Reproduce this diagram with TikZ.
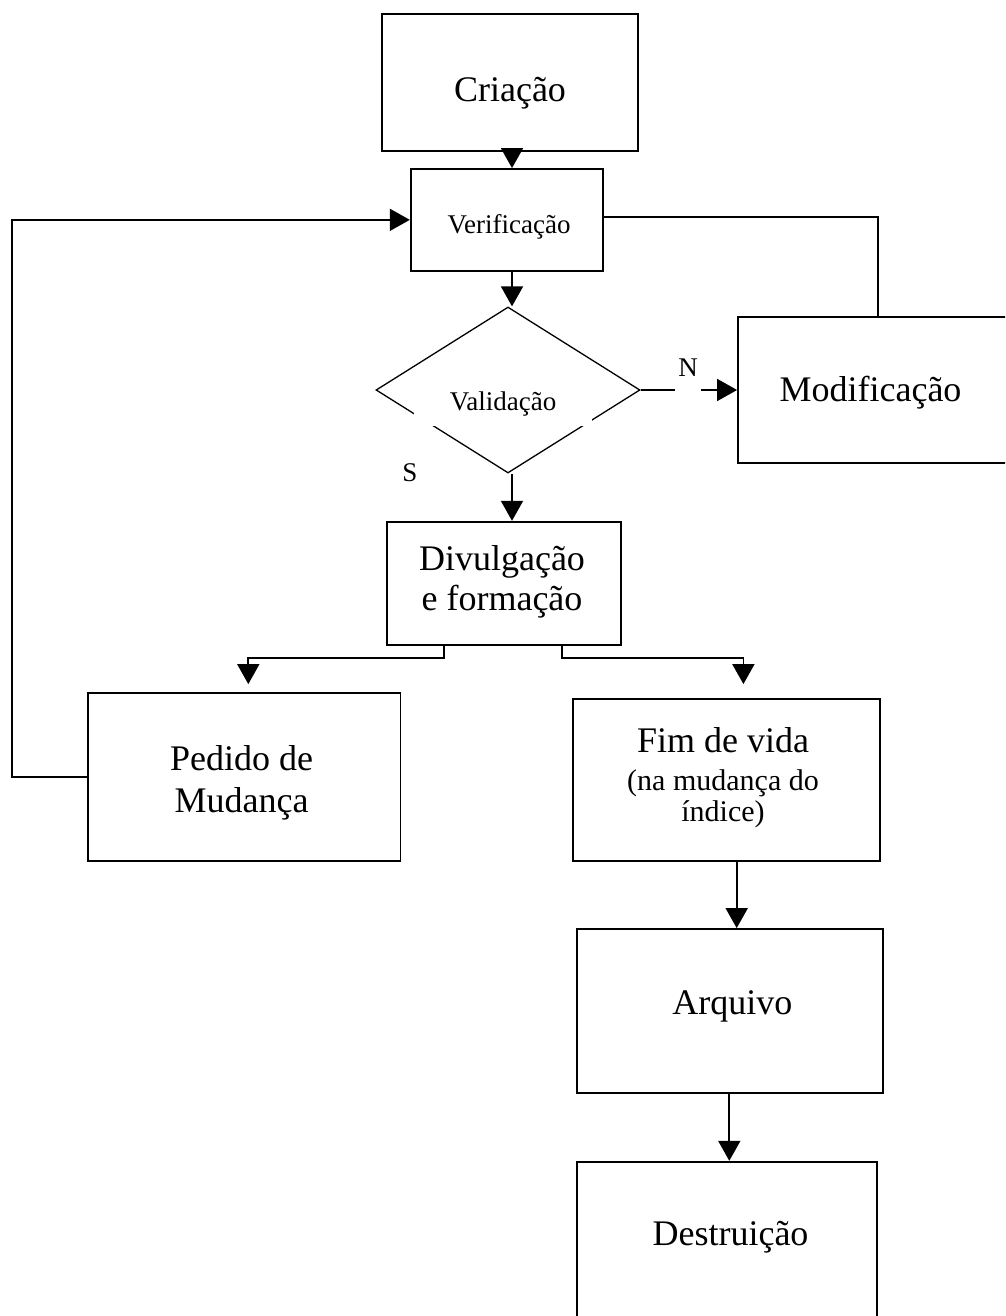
\documentclass[tikz,border=0pt]{standalone}
\usepackage{fontspec}
\setmainfont{Liberation Serif}
\usetikzlibrary{arrows.meta,shapes.geometric}

\begin{document}
\begin{tikzpicture}[x=1pt,y=-1pt,
  box/.style={draw, line width=1.8pt, rectangle, inner sep=0pt},
  conn/.style={line width=1.8pt},
  arr/.style={conn, -{Triangle[width=22pt,length=20pt]}},
  big/.style={font=\fontsize{36}{42}\selectfont, anchor=base, inner sep=0pt},
  mid/.style={font=\fontsize{30}{36}\selectfont, anchor=base, inner sep=0pt},
  small/.style={font=\fontsize{27}{32}\selectfont, anchor=base, inner sep=0pt},
]
\useasboundingbox (0,0) rectangle (1005,1316);
\clip (0,0) rectangle (1005,1316);

% boxes
\node[box, minimum width=256pt, minimum height=137pt]   (cri) at (510,82.5) {};
\node[box, minimum width=192pt, minimum height=101.7pt] (ver) at (506.7,219.85) {};
\node[draw, diamond, line width=1.3pt, inner sep=0pt,
      minimum width=264pt, minimum height=166pt]        (val) at (508,390) {};
\node[box, minimum width=274pt, minimum height=146pt]   (mod) at (875,390) {};
\node[box, minimum width=234pt, minimum height=123.3pt] (div) at (503.7,583.35) {};
\node[box, minimum width=312.2pt, minimum height=167.7pt] (ped) at (244.4,777.15) {};
\node[box, minimum width=307pt, minimum height=161.7pt] (fim) at (726.5,780.15) {};
\node[box, minimum width=306.6pt, minimum height=164pt] (arq) at (730,1011) {};
\node[box, minimum width=300.3pt, minimum height=168.3pt] (des) at (726.85,1245.85) {};

% connector guide positions
\coordinate (cx) at (512,0);
\coordinate (mx) at (877.7,0);
\coordinate (lx) at (12.3,0);
\coordinate (dl) at (444.3,0);
\coordinate (dr) at (561.7,0);
\coordinate (hy) at (0,658);
\coordinate (pl) at (248.3,0);
\coordinate (fr) at (743.4,0);
\coordinate (fa) at (736.7,0);
\coordinate (ad) at (729.3,0);

% connectors
\draw[arr, shorten <=-7pt] (cri.south -| cx) -- (ver.north -| cx);
\draw[arr] (ver.south -| cx) -- (val.north -| cx);
\draw[arr] (val.south -| cx) -- (div.north -| cx);
\draw[arr] (val.east) -- (val.east -| mod.west);
\draw[conn] ([yshift=3pt]ver.east) -| (mod.north -| mx);
\draw[arr] (ped.west) -- (ped.west -| lx) |- (ver.west);
\draw[arr, shorten >=8.3pt] (div.south -| dl) -- (hy -| dl) -- (hy -| pl) -- (ped.north -| pl);
\draw[arr, shorten >=14.3pt] (div.south -| dr) -- (hy -| dr) -- (hy -| fr) -- (fim.north -| fr);
\draw[arr] (fim.south -| fa) -- (arq.north -| fa);
\draw[arr] (arq.south -| ad) -- (des.north -| ad);

% labels
\node[big] (tcri) at (510,101.7) {Criação};
\node[small] (tver) at (509,233) {Verificação};
\node[small, fill=white, text height=38pt, text depth=16pt, minimum width=178pt] (tval) at (503,410) {Validação};
\node[small, fill=white, text height=24pt, text depth=16pt, minimum width=26pt] (tn) at (688,376) {N};
\node[small] (ts) at (410,481.7) {S};
\node[big] (tmod) at (870.5,401.7) {Modificação};
\node[big] (tdiv1) at (502,570) {Divulgação};
\node[big] (tdiv2) at (502,610) {e formação};
\node[big] (tped1) at (241.5,770) {Pedido de};
\node[big] (tped2) at (241.5,812) {Mudança};
\node[big] (tfim1) at (723,752.7) {Fim de vida};
\node[mid] (tfim2) at (723,790) {(na mudança do};
\node[mid] (tfim3) at (723,821.7) {índice)};
\node[big] (tarq) at (732.3,1014) {Arquivo};
\node[big] (tdes) at (730.5,1245) {Destruição};
\end{tikzpicture}
\end{document}
